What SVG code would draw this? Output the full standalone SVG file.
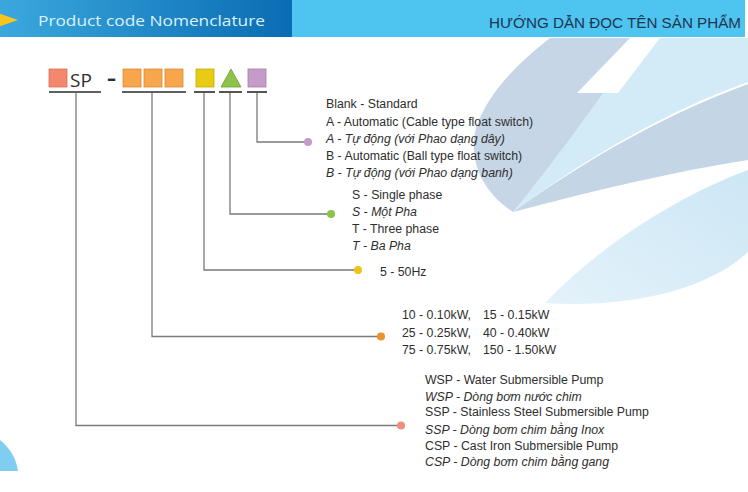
<svg xmlns="http://www.w3.org/2000/svg" width="748" height="492" viewBox="0 0 748 492">
<defs>
<linearGradient id="hdr" x1="0" y1="0" x2="1" y2="0">
<stop offset="0" stop-color="#3aa8de"/>
<stop offset="1" stop-color="#0a6cb2"/>
</linearGradient>
<linearGradient id="lb" x1="0" y1="1" x2="1" y2="0">
<stop offset="0" stop-color="#e4f2fa"/>
<stop offset="1" stop-color="#cce7f5"/>
</linearGradient>
<style>
.t{font-family:"Liberation Sans",Arial,sans-serif;font-size:12.3px;fill:#2e2e2e}
.i{font-style:italic}
.ln{fill:none;stroke:#7a7a7a;stroke-width:1.3}
.ul{stroke:#2b2b2b;stroke-width:1.6}
.bx{stroke-width:0.8}
</style>
</defs>
<rect width="748" height="492" fill="#ffffff"/>
<g id="background">
<path d="M618,38 L748,38 L748,82 C670,110 590,155 513,212 C560,150 595,95 618,38 Z" fill="#d3eaf7"/>
<path d="M545,303 C625,308 705,292 748,252 L748,170 C680,195 600,245 545,303 Z" fill="url(#lb)"/>
<path d="M550,38 L640,38 C605,92 563,150 513,212 C482,192 468,160 476,128 C487,95 515,65 550,38 Z" fill="#c6d6e6"/>
<path d="M513,212 C592,155 672,112 748,84 L748,160 C672,172 596,190 513,212 Z" fill="#c4d5e6"/>
<path d="M577,93 L618,93 L660,38 L630,38 Z" fill="#ffffff"/>
<path d="M0,440 C10,448 16,458 18,471 L0,471 Z" fill="#7fcdf0"/>
</g>
<g id="header">
<rect x="0" y="0" width="292" height="37" fill="url(#hdr)"/>
<rect x="292" y="0" width="453" height="37" fill="#4ec4f0"/>
<path d="M-2,13 L18,20 L-2,27 Z" fill="#f7c51c"/>
<text x="38" y="26" font-family="'Open Sans',sans-serif" font-size="15" fill="#dcf2fc" textLength="227" lengthAdjust="spacingAndGlyphs">Product code Nomenclature</text>
<text x="489" y="28" font-family="'Liberation Sans',Arial,sans-serif" font-size="14.5" fill="#1f3550" textLength="252" lengthAdjust="spacingAndGlyphs">HƯỚNG DẪN ĐỌC TÊN SẢN PHẨM</text>
</g>
<g id="code">
<rect class="bx" x="49" y="69" width="18" height="18" fill="#f4886d" stroke="#d9705a"/>
<text x="70" y="87" font-family="'Open Sans',sans-serif" font-size="19" fill="#2e2e2e">SP</text>
<text x="107" y="85" font-family="'Open Sans',sans-serif" font-size="20" font-weight="700" fill="#2e2e2e" textLength="9" lengthAdjust="spacingAndGlyphs">-</text>
<rect class="bx" x="123" y="69" width="18" height="18" fill="#f7a64b" stroke="#d98a35"/>
<rect class="bx" x="144" y="69" width="18" height="18" fill="#f7a64b" stroke="#d98a35"/>
<rect class="bx" x="165" y="69" width="18" height="18" fill="#f7a64b" stroke="#d98a35"/>
<rect class="bx" x="196" y="69" width="18" height="18" fill="#e8cb14" stroke="#c4aa0c"/>
<path class="bx" d="M221,87 L241,87 L231,69 Z" fill="#8dc24b" stroke="#6f9e35"/>
<rect class="bx" x="248" y="69" width="18" height="18" fill="#c59bc9" stroke="#a57aa9"/>
<line class="ul" x1="49" y1="92" x2="101" y2="92"/>
<line class="ul" x1="122" y1="92" x2="186" y2="92"/>
<line class="ul" x1="194" y1="92" x2="215" y2="92"/>
<line class="ul" x1="219" y1="92" x2="242" y2="92"/>
<line class="ul" x1="247" y1="92" x2="267" y2="92"/>
</g>
<g id="connectors">
<path class="ln" d="M257,93 V142 H308"/>
<path class="ln" d="M230,93 V214 H331"/>
<path class="ln" d="M204,93 V270 H358"/>
<path class="ln" d="M152,93 V336.5 H381"/>
<path class="ln" d="M76,93 V425.5 H401"/>
<circle cx="308" cy="142" r="4" fill="#c59bc9"/>
<circle cx="331" cy="214" r="4" fill="#8dc24b"/>
<circle cx="358" cy="270" r="4" fill="#efc21c"/>
<circle cx="381" cy="336.5" r="4" fill="#e9942c"/>
<circle cx="401" cy="425.5" r="4" fill="#f08d7b"/>
</g>
<g id="option">
<text class="t" x="326" y="108">Blank - Standard</text>
<text class="t" x="326" y="125.5">A - Automatic (Cable type float switch)</text>
<text class="t i" x="326" y="142.5">A - Tự động (với Phao dạng dây)</text>
<text class="t" x="326" y="160">B - Automatic (Ball type float switch)</text>
<text class="t i" x="326" y="177">B - Tự động (với Phao dạng banh)</text>
</g>
<g id="phase">
<text class="t" x="352" y="199">S - Single phase</text>
<text class="t i" x="352" y="216">S - Một Pha</text>
<text class="t" x="352" y="233">T - Three phase</text>
<text class="t i" x="352" y="250">T - Ba Pha</text>
</g>
<g id="frequency">
<text class="t" x="380" y="276">5 - 50Hz</text>
</g>
<g id="power">
<text class="t" x="402" y="319">10 - 0.10kW,</text>
<text class="t" x="483" y="319">15 - 0.15kW</text>
<text class="t" x="402" y="336.5">25 - 0.25kW,</text>
<text class="t" x="483" y="336.5">40 - 0.40kW</text>
<text class="t" x="402" y="354">75 - 0.75kW,</text>
<text class="t" x="483" y="354">150 - 1.50kW</text>
</g>
<g id="type">
<text class="t" x="425" y="383.5">WSP - Water Submersible Pump</text>
<text class="t i" x="425" y="400.5">WSP - Dòng bơm nước chim</text>
<text class="t" x="425" y="416">SSP - Stainless Steel Submersible Pump</text>
<text class="t i" x="425" y="433.5">SSP - Dòng bơm chim bằng Inox</text>
<text class="t" x="425" y="449.5">CSP - Cast Iron Submersible Pump</text>
<text class="t i" x="425" y="466">CSP - Dòng bơm chim bằng gang</text>
</g>
</svg>
